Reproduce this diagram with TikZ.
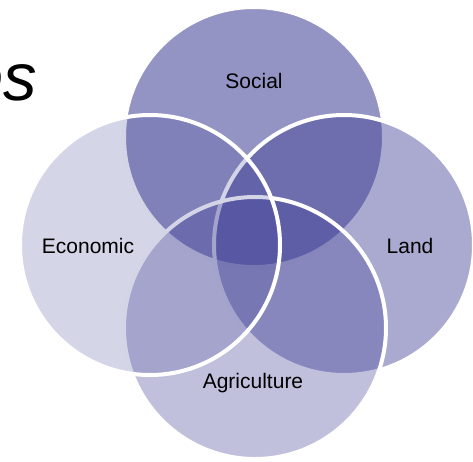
\documentclass[tikz,border=0pt]{standalone}
\usepackage{fontspec}
\setmainfont{Liberation Sans}
\definecolor{vbase}{RGB}{60,60,148}
\tikzset{
  venn/.style={fill=vbase, draw=white, line width=4pt},
  lbl/.style={font=\fontsize{21}{25}\selectfont, text=black, inner sep=0pt}
}
\begin{document}
\begin{tikzpicture}[x=1pt,y=-1pt]
\useasboundingbox (0,0) rectangle (473,461);
\begin{scope}
\clip (0,0) rectangle (473,461);
\node[anchor=base east, inner sep=0pt, font=\fontsize{67}{70}\selectfont\itshape] (es) at (37,100) {es};
\path[venn, fill opacity=0.549] (254,137) circle (130) coordinate (socc);
\path[venn, fill opacity=0.436] (344,245) circle (130) coordinate (landc);
\path[venn, fill opacity=0.323] (255,328) circle (131) coordinate (agrc);
\path[venn, fill opacity=0.215] (150,245) circle (130) coordinate (econc);
\end{scope}
\node[lbl] (social) at (254,81) {Social};
\node[lbl] (economic) at (88,246) {Economic};
\node[lbl] (land) at (410,246) {Land};
\node[lbl] (agri) at (253,383) {Agriculture};
\end{tikzpicture}
\end{document}
